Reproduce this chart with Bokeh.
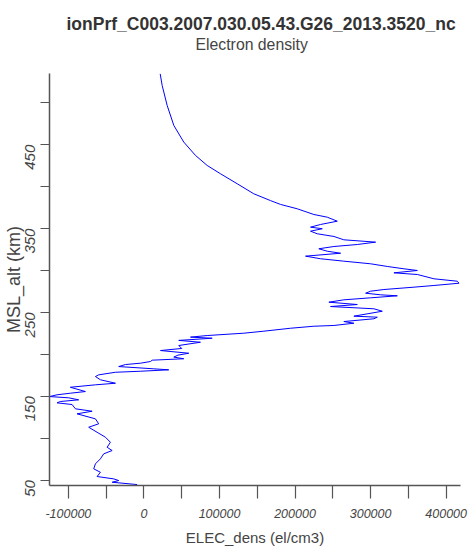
import math
from bokeh.plotting import figure
from bokeh.models import Range1d, FixedTicker, Title
from bokeh.embed import file_html
from bokeh.resources import INLINE

# ---- data ----
msl_alt = [
    44.6, 47.4, 49.4, 51.4, 54.2, 59.3, 63.4, 69.3, 75.3, 81.3,
    85.2, 89.1, 95.1, 101.1, 107.0, 113.0, 117.1, 123.0, 129.0, 132.1,
    135.0, 140.1, 142.1, 143.7, 145.7, 148.1, 149.6, 151.7, 153.6, 155.6,
    160.7, 163.6, 165.5, 169.6, 173.5, 175.5, 178.6, 179.8, 181.5, 182.7,
    185.4, 187.8, 189.4, 191.4, 193.0, 194.7, 196.7, 199.0, 201.3, 204.5,
    207.0, 210.5, 214.4, 216.6, 219.2, 220.5, 222.4, 225.2, 227.6, 231.1,
    233.5, 234.4, 237.1, 239.1, 242.4, 244.3, 245.5, 251.4, 254.3, 257.0,
    259.4, 262.2, 265.0, 267.4, 269.8, 271.0, 272.9, 275.3, 277.3, 280.1,
    282.1, 284.8, 287.2, 290.1, 295.2, 297.2, 300.0, 302.0, 304.8, 308.0,
    311.1, 314.0, 317.1, 320.6, 323.0, 325.9, 328.6, 331.0, 333.8, 336.6,
    340.6, 343.8, 346.9, 349.8, 351.7, 354.9, 358.8, 363.6, 366.8, 373.6,
    378.8, 383.4, 391.5, 403.5, 415.4, 425.3, 437.3, 453.2, 473.1, 497.0,
    520.8, 534.7,
]
elec_dens = [
    -9000, -42100, -33400, -40000, -62000, -57600, -66500, -64200, -57600, -53200,
    -42100, -48700, -44400, -51000, -62000, -73100, -59900, -64200, -88500, -68600,
    -90700, -95100, -115000, -110600, -86400, -99600, -125000, -115000, -97400, -77500,
    -97400, -64200, -37700, -57600, -64200, -59900, -37700, -4600, 32800, 13000,
    -33400, -24500, -4600, 8600, 10900, 52700, 39500, 45000, 59300, 21900,
    50000, 46100, 74800, 46100, 90300, 61600, 83700, 132200, 158700, 194000,
    224900, 251400, 277900, 264600, 304400, 308900, 277900, 315500, 304400, 247000,
    282400, 244800, 264600, 300000, 335400, 313200, 293400, 300000, 317600, 357400,
    383800, 417000, 414800, 383800, 361900, 330900, 361900, 344100, 322100, 300000,
    264600, 233800, 213900, 260300, 242600, 231500, 251400, 282400, 306600, 264600,
    251400, 229400, 220500, 236000, 220500, 233800, 255900, 242600, 224900, 202900,
    180800, 167500, 145400, 123400, 101300, 83700, 68200, 52700, 39500, 30700,
    24100, 21500,
]

x_major_ticks = [-100000, 0, 100000, 200000, 300000, 400000]
x_tick_labels = ["-100000", "0", "100000", "200000", "300000", "400000"]
x_minor_ticks = [-50000, 50000, 150000, 250000, 350000]
y_major_ticks = [50, 150, 250, 350, 450]
y_tick_labels = ["50", "150", "250", "350", "450"]
y_minor_ticks = [100, 200, 300, 400, 500]

title_text = "ionPrf_C003.2007.030.05.43.G26_2013.3520_nc"
subtitle_text = "Electron density"
x_label = "ELEC_dens (el/cm3)"
y_label = "MSL_alt (km)"

FONT = "Liberation Sans"

p = figure(width=468, height=548, output_backend="svg", toolbar_location=None,
           x_range=Range1d(-125000, 419000), y_range=Range1d(43.5, 535),
           min_border_left=49, min_border_right=8, min_border_top=73,
           min_border_bottom=63)
p.outline_line_color = None
p.xgrid.visible = False
p.ygrid.visible = False
p.background_fill_color = "white"
p.border_fill_color = "white"

p.line(elec_dens, msl_alt, line_color="#0000ff", line_width=1)

# spacer (closest to the frame), then subtitle, then main title (outermost)
spacer = Title(text=" ", text_font=FONT, text_font_size="2px", standoff=17)
p.add_layout(spacer, "above")
sub = Title(text=subtitle_text, align="left", offset=146, text_font=FONT,
            text_font_size="15.8px", text_font_style="normal",
            text_color="#444444", standoff=0)
p.add_layout(sub, "above")

p.title.text = title_text
p.title.align = "left"
p.title.offset = 17
p.title.text_font = FONT
p.title.text_font_size = "17.5px"
p.title.text_font_style = "bold"
p.title.text_color = "#333333"
p.title.standoff = -1

# x axis
xa = p.xaxis[0]
xa.ticker = FixedTicker(ticks=x_major_ticks, minor_ticks=x_minor_ticks)
xa.major_label_overrides = {t: s for t, s in zip(x_major_ticks, x_tick_labels)}
xa.axis_line_color = "#555555"
xa.axis_line_width = 1.5
xa.major_tick_line_color = "#555555"
xa.minor_tick_line_color = "#555555"
xa.major_tick_line_width = 1.2
xa.minor_tick_line_width = 1.2
xa.major_tick_in = 0
xa.major_tick_out = 13
xa.minor_tick_in = 0
xa.minor_tick_out = 13
xa.major_label_text_font = FONT
xa.major_label_text_font_size = "12.5px"
xa.major_label_text_font_style = "italic"
xa.major_label_text_color = "#444444"
xa.major_label_standoff = 10
xa.axis_label = x_label
xa.axis_label_text_font = FONT
xa.axis_label_text_font_size = "15px"
xa.axis_label_text_font_style = "normal"
xa.axis_label_text_color = "#444444"
xa.axis_label_standoff = 8

# y axis
ya = p.yaxis[0]
ya.ticker = FixedTicker(ticks=y_major_ticks, minor_ticks=y_minor_ticks)
ya.major_label_overrides = {t: s for t, s in zip(y_major_ticks, y_tick_labels)}
ya.axis_line_color = "#555555"
ya.axis_line_width = 1.5
ya.major_tick_line_color = "#555555"
ya.minor_tick_line_color = "#555555"
ya.major_tick_line_width = 1.2
ya.minor_tick_line_width = 1.2
ya.major_tick_in = 0
ya.major_tick_out = 9
ya.minor_tick_in = 0
ya.minor_tick_out = 9
ya.major_label_orientation = math.pi / 2
ya.major_label_text_font = FONT
ya.major_label_text_font_size = "15px"
ya.major_label_text_font_style = "italic"
ya.major_label_text_color = "#444444"
ya.major_label_standoff = 10
ya.axis_label = y_label
ya.axis_label_text_font = FONT
ya.axis_label_text_font_size = "18px"
ya.axis_label_text_font_style = "normal"
ya.axis_label_text_color = "#444444"
ya.axis_label_standoff = -6

open("out.html", "w").write(file_html(p, INLINE))
